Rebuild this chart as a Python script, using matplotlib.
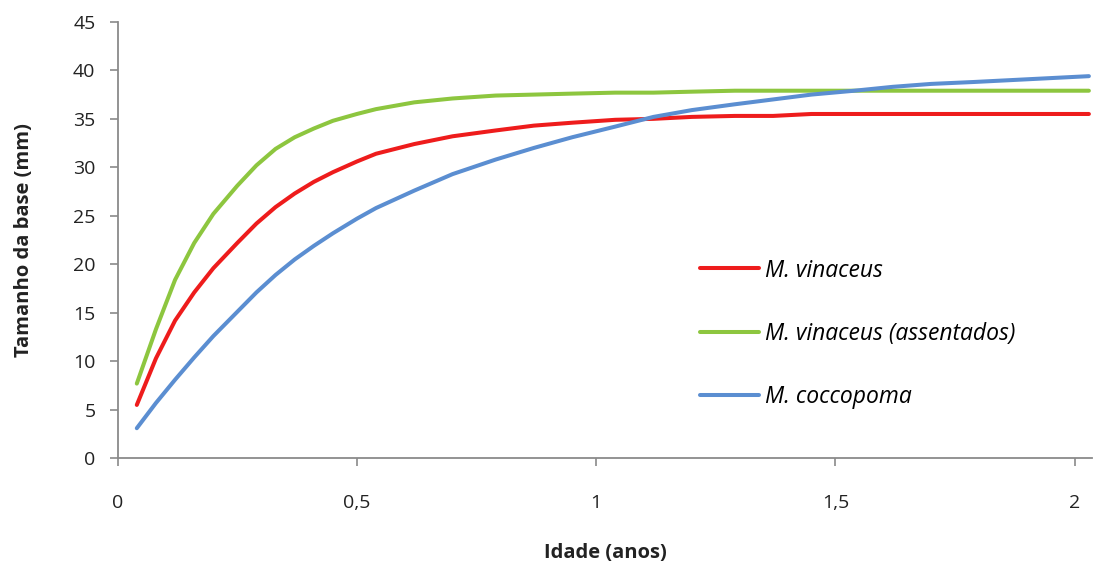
import matplotlib
matplotlib.use('Agg')
from matplotlib import pyplot as plt
from matplotlib.ticker import FuncFormatter

# idade em anos
idade = [0.04, 0.08, 0.12, 0.16, 0.20, 0.25, 0.29, 0.33, 0.37, 0.41, 0.45, 0.50, 0.54,
         0.62, 0.70, 0.79, 0.87, 0.95, 1.04, 1.12, 1.20, 1.29, 1.37, 1.45, 1.54,
         1.62, 1.70, 1.79, 1.87, 1.95, 2.03]

# tamanho da base (mm)
vinaceus = [5.5, 10.3, 14.2, 17.1, 19.6, 22.2, 24.2, 25.9, 27.3, 28.5, 29.5, 30.6, 31.4,
            32.4, 33.2, 33.8, 34.3, 34.6, 34.9, 35.0, 35.2, 35.3, 35.3, 35.5, 35.5,
            35.5, 35.5, 35.5, 35.5, 35.5, 35.5]
vinaceus_assent = [7.7, 13.3, 18.4, 22.2, 25.2, 28.1, 30.2, 31.9, 33.1, 34.0, 34.8, 35.5, 36.0,
                   36.7, 37.1, 37.4, 37.5, 37.6, 37.7, 37.7, 37.8, 37.9, 37.9, 37.9, 37.9,
                   37.9, 37.9, 37.9, 37.9, 37.9, 37.9]
coccopoma = [3.1, 5.7, 8.1, 10.4, 12.6, 15.1, 17.1, 18.9, 20.5, 21.9, 23.2, 24.7, 25.8,
             27.6, 29.3, 30.8, 32.0, 33.1, 34.2, 35.2, 35.9, 36.5, 37.0, 37.5, 37.9,
             38.3, 38.6, 38.8, 39.0, 39.2, 39.4]

labels = ['M. vinaceus', 'M. vinaceus (assentados)', 'M. coccopoma']
cores = ['#EE1C1C', '#8DC63F', '#5B8ED1']

plt.rcParams['font.family'] = ['Open Sans', 'DejaVu Sans']

fig = plt.figure(figsize=(11.1, 5.75), dpi=100)
ax = fig.add_axes([0.106, 0.203, 0.878, 0.759])

for y, lab, c in zip([vinaceus, vinaceus_assent, coccopoma], labels, cores):
    ax.plot(idade, y, color=c, lw=2.9, label=lab, solid_capstyle='round',
            solid_joinstyle='round')

ax.set_xlim(0, 2.037)
ax.set_ylim(0, 45)
ax.set_xticks([0, 0.5, 1, 1.5, 2])
ax.set_yticks(range(0, 46, 5))
ax.xaxis.set_major_formatter(FuncFormatter(lambda v, p: ('%g' % v).replace('.', ',')))

for s in ['top', 'right']:
    ax.spines[s].set_visible(False)
for s in ['left', 'bottom']:
    ax.spines[s].set_color('#8a8a8a')
    ax.spines[s].set_linewidth(1.3)
ax.tick_params(axis='both', colors='#8a8a8a', length=6, width=1.2, labelsize=14,
               labelcolor='#222222')
ax.tick_params(axis='x', pad=20)
ax.tick_params(axis='y', pad=10)

ax.set_xlabel('Idade (anos)', fontsize=14.5, fontweight='bold', labelpad=22, color='#222222')
ax.set_ylabel('Tamanho da base (mm)', fontsize=14.5, fontweight='bold', labelpad=28,
              color='#222222')

leg = ax.legend(loc='upper left', bbox_to_anchor=(0.576, 0.505), frameon=False,
                handlelength=2.6, handletextpad=0.25, labelspacing=1.72,
                prop={'style': 'italic', 'size': 16.5})
for h in leg.get_lines():
    h.set_linewidth(2.9)

fig.savefig('out.png', dpi=100)
